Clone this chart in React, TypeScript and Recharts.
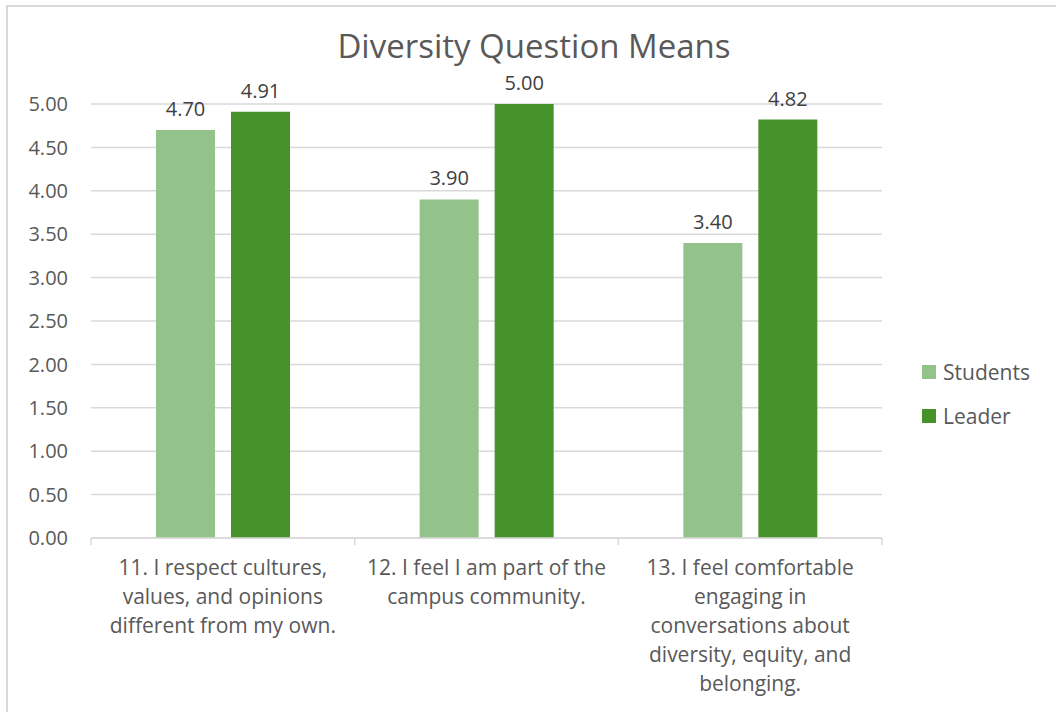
import React from 'react';
import { BarChart, Bar, XAxis, YAxis, CartesianGrid, LabelList } from 'recharts';

// Category labels carry their own line breaks
const categories = [
  '11. I respect cultures,\nvalues, and opinions\ndifferent from my own.',
  '12. I feel I am part of the\ncampus community.',
  '13. I feel comfortable\nengaging in\nconversations about\ndiversity, equity, and\nbelonging.',
];
const students = [4.7, 3.9, 3.4];
const leader = [4.91, 5.0, 4.82];
const yTicks = [0, 0.5, 1, 1.5, 2, 2.5, 3, 3.5, 4, 4.5, 5];

const data = categories.map((name, i) => ({
  name,
  Students: students[i],
  Leader: leader[i],
}));

const W = 1056;
const H = 712;
const MARGIN = { top: 104, right: 174, bottom: 0, left: 0 };
const Y_AXIS_W = 91;
const PLOT_W = W - MARGIN.left - MARGIN.right - Y_AXIS_W;

const FONT = "'Open Sans', 'Liberation Sans', sans-serif";
const TEXT = '#595959';
const GRID = '#d9d9d9';
const LIGHT = '#93c28a';
const DARK = '#46932b';

const legendItems = [
  { label: 'Students', color: LIGHT },
  { label: 'Leader', color: DARK },
];

function CategoryTick(props: any) {
  const { x, y, payload, index } = props;
  const lines = String(payload.value).split('\n');
  const half = PLOT_W / categories.length / 2;
  return (
    <g>
      <line x1={x - half} x2={x - half} y1={y} y2={y + 7} stroke={GRID} strokeWidth={1.5} />
      {index === categories.length - 1 && (
        <line x1={x + half} x2={x + half} y1={y} y2={y + 7} stroke={GRID} strokeWidth={1.5} />
      )}
      <text x={x} y={y + 37} textAnchor="middle" fill={TEXT} fontSize={21} fontFamily={FONT}>
        {lines.map((l, i) => (
          <tspan key={i} x={x} dy={i === 0 ? 0 : 29}>
            {l}
          </tspan>
        ))}
      </text>
    </g>
  );
}

// legend sits to the right of the plot, outside the chart's layout
function LegendBox() {
  return (
    <div
      style={{
        position: 'absolute',
        left: 922,
        top: 350,
        fontFamily: FONT,
        fontSize: 21,
        color: TEXT,
      }}
    >
      {legendItems.map((it) => (
        <div key={it.label} style={{ display: 'flex', alignItems: 'center', height: 44 }}>
          <span style={{ width: 14, height: 14, background: it.color, marginRight: 7 }} />
          <span>{it.label}</span>
        </div>
      ))}
    </div>
  );
}

export default function App() {
  return (
    <div
      style={{
        position: 'absolute',
        left: 0,
        top: 0,
        width: W,
        height: H,
        overflow: 'hidden',
        background: '#fff',
      }}
    >
      <div
        style={{
          position: 'absolute',
          left: 6,
          top: 5,
          width: W + 40,
          height: H + 40,
          border: `2px solid ${GRID}`,
        }}
      />
      <div
        style={{
          position: 'absolute',
          left: 0,
          width: 1068,
          top: 29,
          textAlign: 'center',
          fontFamily: FONT,
          fontSize: 33,
          lineHeight: '33px',
          color: TEXT,
        }}
      >
        Diversity Question Means
      </div>
      <div style={{ position: 'absolute', left: 0, top: 0 }}>
        <BarChart width={W} height={H} data={data} margin={MARGIN} barSize={59} barGap={16}>
          <CartesianGrid vertical={false} stroke={GRID} strokeWidth={1.5} />
          <XAxis
            dataKey="name"
            height={174}
            axisLine={{ stroke: GRID, strokeWidth: 1.5 }}
            tickLine={false}
            tickSize={0}
            tickMargin={0}
            interval={0}
            tick={<CategoryTick />}
          />
          <YAxis
            width={Y_AXIS_W}
            domain={[0, 5]}
            ticks={yTicks}
            interval={0}
            axisLine={false}
            tickLine={false}
            tickSize={0}
            tickMargin={23}
            tickFormatter={(v: number) => v.toFixed(2)}
            tick={{ fill: TEXT, fontSize: 20, fontFamily: FONT }}
          />
          <Bar dataKey="Students" fill={LIGHT} isAnimationActive={false}>
            <LabelList
              dataKey="Students"
              position="top"
              offset={14}
              formatter={(v: any) => Number(v).toFixed(2)}
              fill="#404040"
              fontSize={20}
              fontFamily={FONT}
            />
          </Bar>
          <Bar dataKey="Leader" fill={DARK} isAnimationActive={false}>
            <LabelList
              dataKey="Leader"
              position="top"
              offset={14}
              formatter={(v: any) => Number(v).toFixed(2)}
              fill="#404040"
              fontSize={20}
              fontFamily={FONT}
            />
          </Bar>
        </BarChart>
      </div>
      <LegendBox />
    </div>
  );
}
